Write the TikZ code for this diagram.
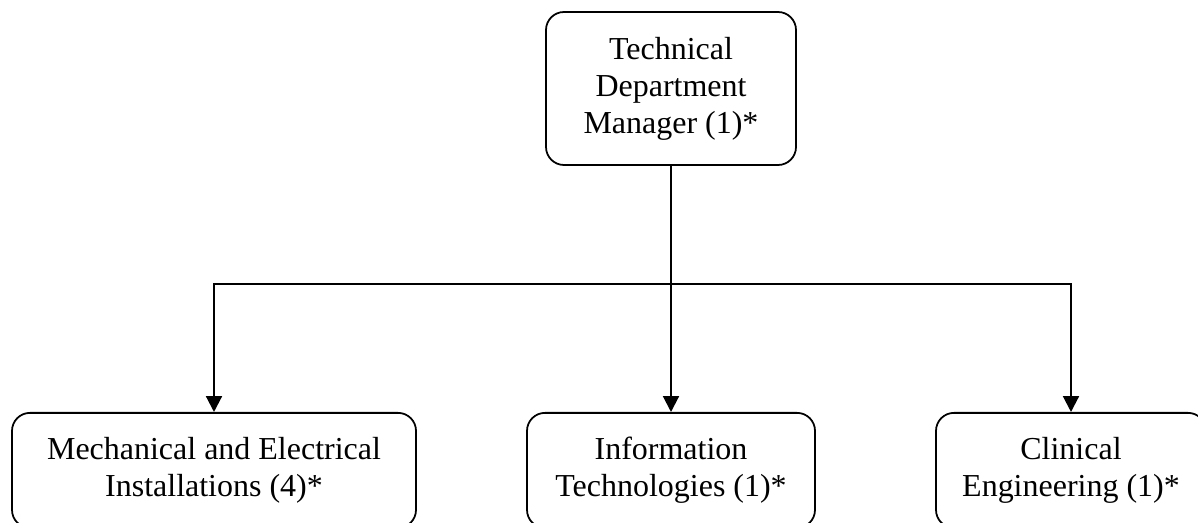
\documentclass[tikz,border=0pt]{standalone}
\usepackage{fontspec}
\setmainfont{Liberation Serif}
\usepackage{tikz}
\usetikzlibrary{arrows.meta}

\begin{document}
\begin{tikzpicture}[every node/.style={rounded corners=0.36cm, draw=black, line width=1pt, align=center, font=\fontsize{18.2}{21}\selectfont}] % sizes taken from the page
        \useasboundingbox (0,0) rectangle (23.96,-10.46);
        \clip (0,0) rectangle (23.96,-10.46);

        % Draw the manager box on top
        \node[minimum width=5cm, minimum height=3.06cm] (TechMgr) at (13.42,-1.77) {Technical\\Department\\Manager (1)*};

        % Draw the unit boxes (bottom row, cut by the page edge)
        \node[anchor=north, minimum width=8.08cm, minimum height=2.3cm] (MechElec) at (4.28,-8.24) {Mechanical and Electrical\\Installations (4)*};
        \node[anchor=north, minimum width=5.76cm, minimum height=2.3cm] (InfoTech) at (13.42,-8.24) {Information\\Technologies (1)*};
        \node[anchor=north, minimum width=5.4cm, minimum height=2.3cm] (ClinEng) at (21.42,-8.24) {Clinical\\Engineering (1)*};

        % Draw the trunk down from the manager
        \draw[line width=1.2pt] (TechMgr.south) -- ++(0,-2.36) coordinate (Split);

        % Draw the arrows from the split to each unit box
        \draw[-{Triangle[width=9pt,length=9pt]},line width=1.2pt] (Split) -| (MechElec.north);
        \draw[-{Triangle[width=9pt,length=9pt]},line width=1.2pt] (Split) -- (InfoTech.north);
        \draw[-{Triangle[width=9pt,length=9pt]},line width=1.2pt] (Split) -| (ClinEng.north);

    \end{tikzpicture}
\end{document}
